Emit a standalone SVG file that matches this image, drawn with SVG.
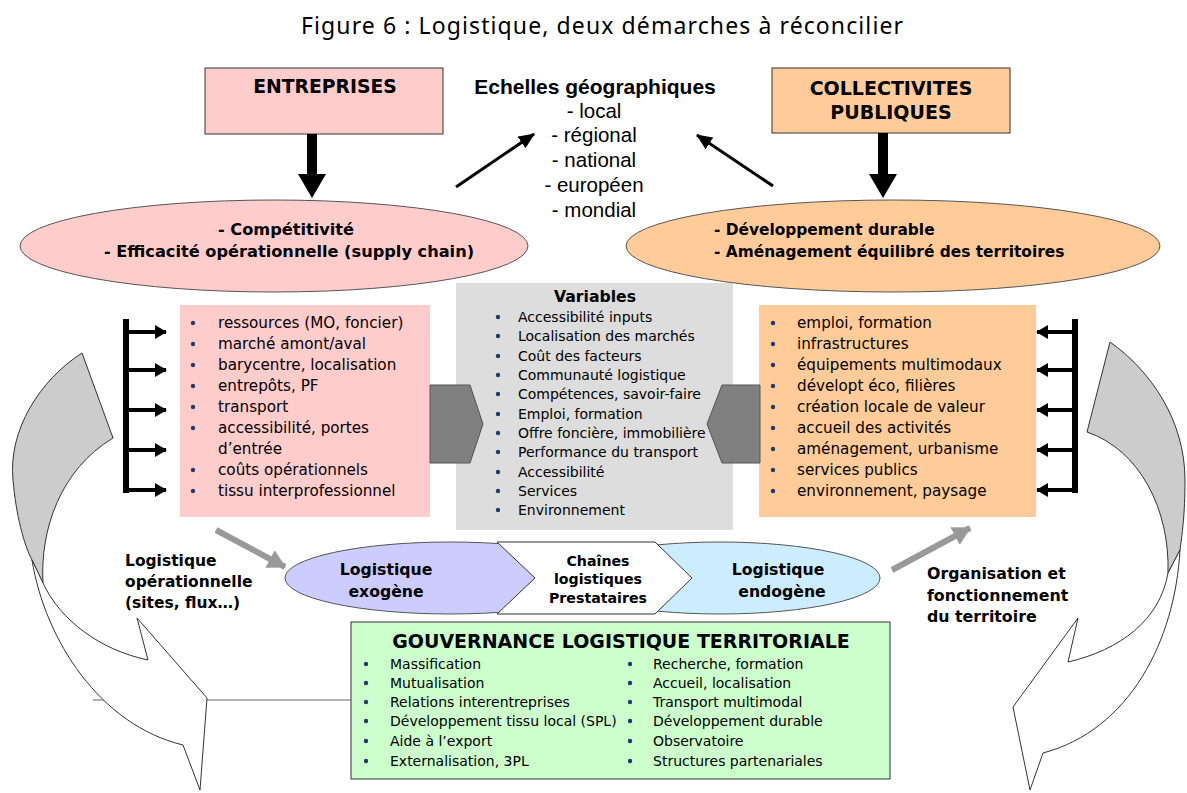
<svg xmlns="http://www.w3.org/2000/svg" width="1187" height="793" viewBox="0 0 1187 793">
<defs>
<style>
.t{font-family:"DejaVu Sans",Verdana,sans-serif;fill:#000}
.b{font-family:"DejaVu Sans",Verdana,sans-serif;font-weight:bold;fill:#000}
.n{font-family:"Liberation Sans Narrow","Liberation Sans",Arial,sans-serif;fill:#000}
.dot{fill:#1F3B6E}
.edge{stroke:#333;stroke-width:1}
.curv{stroke:#333;stroke-width:1}
</style>
<marker id="blk" markerUnits="userSpaceOnUse" viewBox="0 0 16 14" markerWidth="16" markerHeight="14" refX="15" refY="7" orient="auto"><path d="M0,0 L16,7 L0,14 z" fill="#000"/></marker>
<marker id="brk" markerUnits="userSpaceOnUse" viewBox="0 0 12 14" markerWidth="12" markerHeight="14" refX="11" refY="7" orient="auto"><path d="M0,0 L12,7 L0,14 z" fill="#000"/></marker>
<marker id="gry" markerUnits="userSpaceOnUse" viewBox="0 0 18 20" markerWidth="18" markerHeight="20" refX="17" refY="10" orient="auto"><path d="M0,0 L18,10 L0,20 z" fill="#999"/></marker>
</defs>
<rect width="1187" height="793" fill="#fff"/>
<text x="602" y="34" text-anchor="middle" textLength="602" lengthAdjust="spacing" style="font-family:'Noto Sans','Liberation Sans',sans-serif;font-size:23px;fill:#000">Figure 6 : Logistique, deux démarches à réconcilier</text>

<g id="curved-arrows">
<line x1="93" y1="700" x2="351" y2="700" stroke="#666" stroke-width="1"/>
<path class="curv" fill="#ccc" d="M82,353 C40,380 8,430 13,480 C16,515 24,545 32,560 L43,583 C40,530 60,470 113,438 Z"/>
<path class="curv" fill="#fff" d="M32,560 C45,640 100,725 183,745 L200,790 L207,698 L137,618 L148,660 C100,650 60,620 43,583 Z"/>
<path class="curv" fill="#ccc" d="M1110,342 C1150,370 1185,420 1185,480 C1185,515 1182,535 1180,550 L1168,573 C1170,510 1140,450 1087,432 Z"/>
<path class="curv" fill="#fff" d="M1180,550 C1175,640 1130,730 1043,753 L1030,790 L1013,707 L1078,618 L1068,662 C1120,650 1160,620 1168,573 Z"/>
</g>

<g id="entreprises">
<rect x="205" y="68" width="238" height="66" fill="#FFCCCC" class="edge"/>
<text x="325" y="93" text-anchor="middle" class="b" font-size="18.8">ENTREPRISES</text>
</g>
<g id="collectivites">
<rect x="772" y="68" width="238" height="65" fill="#FFCC99" class="edge"/>
<text x="891" y="95" text-anchor="middle" class="b" font-size="19">COLLECTIVITES</text>
<text x="891" y="119" text-anchor="middle" class="b" font-size="19">PUBLIQUES</text>
</g>
<g id="echelles">
<text x="595" y="94" text-anchor="middle" style="font-family:'Liberation Sans',Arial,sans-serif;font-weight:bold;font-size:21px;fill:#000">Echelles géographiques</text>
<text x="594" y="118" text-anchor="middle" class="n" font-size="20.5">- local</text>
<text x="594" y="142" text-anchor="middle" class="n" font-size="20.5">- régional</text>
<text x="594" y="167" text-anchor="middle" class="n" font-size="20.5">- national</text>
<text x="594" y="192" text-anchor="middle" class="n" font-size="20.5">- européen</text>
<text x="594" y="217" text-anchor="middle" class="n" font-size="20.5">- mondial</text>
</g>

<g id="variables">
<rect x="456" y="283" width="277" height="247" fill="#DDDDDD"/>
<text x="595" y="302" text-anchor="middle" class="b" font-size="15.7">Variables</text>
<g class="t" font-size="14">
<text x="518" y="322">Accessibilité inputs</text>
<text x="518" y="341">Localisation des marchés</text>
<text x="518" y="361">Coût des facteurs</text>
<text x="518" y="380">Communauté logistique</text>
<text x="518" y="399">Compétences, savoir-faire</text>
<text x="518" y="419">Emploi, formation</text>
<text x="518" y="438">Offre foncière, immobilière</text>
<text x="518" y="457">Performance du transport</text>
<text x="518" y="477">Accessibilité</text>
<text x="518" y="496">Services</text>
<text x="518" y="515">Environnement</text>
</g>
<g class="dot">
<circle cx="498" cy="317" r="2.2"/><circle cx="498" cy="336" r="2.2"/><circle cx="498" cy="356" r="2.2"/><circle cx="498" cy="375" r="2.2"/><circle cx="498" cy="394" r="2.2"/><circle cx="498" cy="414" r="2.2"/><circle cx="498" cy="433" r="2.2"/><circle cx="498" cy="452" r="2.2"/><circle cx="498" cy="472" r="2.2"/><circle cx="498" cy="491" r="2.2"/><circle cx="498" cy="510" r="2.2"/>
</g>
</g>

<g id="ellipse-left">
<ellipse cx="274" cy="246" rx="254" ry="46" fill="#FFCCCC" stroke="#555" stroke-width="1"/>
<text x="286" y="235" text-anchor="middle" class="b" font-size="16.2">- Compétitivité</text>
<text x="289" y="257" text-anchor="middle" class="b" font-size="16.2">- Efficacité opérationnelle (supply chain)</text>
</g>
<g id="ellipse-right">
<ellipse cx="893" cy="246" rx="267" ry="46" fill="#FFCC99" stroke="#555" stroke-width="1"/>
<text x="714" y="235" class="b" font-size="15.4">- Développement durable</text>
<text x="714" y="257" class="b" font-size="15.4">- Aménagement équilibré des territoires</text>
</g>

<g id="box-left">
<rect x="180" y="305" width="250" height="212" fill="#FFCCCC"/>
<g class="t" font-size="15.2">
<text x="218" y="328">ressources (MO, foncier)</text>
<text x="218" y="349">marché amont/aval</text>
<text x="218" y="370">barycentre, localisation</text>
<text x="218" y="391">entrepôts, PF</text>
<text x="218" y="412">transport</text>
<text x="218" y="433">accessibilité, portes</text>
<text x="218" y="454">d’entrée</text>
<text x="218" y="475">coûts opérationnels</text>
<text x="218" y="496">tissu interprofessionnel</text>
</g>
<g class="dot">
<circle cx="193" cy="323" r="2.2"/><circle cx="193" cy="344" r="2.2"/><circle cx="193" cy="365" r="2.2"/><circle cx="193" cy="386" r="2.2"/><circle cx="193" cy="407" r="2.2"/><circle cx="193" cy="428" r="2.2"/><circle cx="193" cy="470" r="2.2"/><circle cx="193" cy="491" r="2.2"/>
</g>
</g>

<g id="box-right">
<rect x="759" y="305" width="277" height="212" fill="#FFCC99"/>
<g class="t" font-size="15.2">
<text x="797" y="328">emploi, formation</text>
<text x="797" y="349">infrastructures</text>
<text x="797" y="370">équipements multimodaux</text>
<text x="797" y="391">dévelopt éco, filières</text>
<text x="797" y="412">création locale de valeur</text>
<text x="797" y="433">accueil des activités</text>
<text x="797" y="454">aménagement, urbanisme</text>
<text x="797" y="475">services publics</text>
<text x="797" y="496">environnement, paysage</text>
</g>
<g class="dot">
<circle cx="773" cy="323" r="2.2"/><circle cx="773" cy="344" r="2.2"/><circle cx="773" cy="365" r="2.2"/><circle cx="773" cy="386" r="2.2"/><circle cx="773" cy="407" r="2.2"/><circle cx="773" cy="428" r="2.2"/><circle cx="773" cy="449" r="2.2"/><circle cx="773" cy="470" r="2.2"/><circle cx="773" cy="491" r="2.2"/>
</g>
</g>

<g id="pointer-left"><polygon points="430,385 470,385 483,424 470,463 430,463" fill="#808080" stroke="#555" stroke-width="1"/></g>
<g id="pointer-right"><polygon points="760,385 722,385 707,424 722,463 760,463" fill="#808080" stroke="#555" stroke-width="1"/></g>

<g id="middle-band">
<ellipse cx="450" cy="578" rx="165" ry="36" fill="#CCCCFF" stroke="#555" stroke-width="1"/>
<ellipse cx="720" cy="578" rx="160" ry="36" fill="#CCECFF" stroke="#555" stroke-width="1"/>
<polygon points="497,542 655,542 692,578 655,614 497,614 535,578" fill="#fff" stroke="#333" stroke-width="1"/>
<text x="386" y="575" text-anchor="middle" class="b" font-size="15.7">Logistique</text>
<text x="386" y="597" text-anchor="middle" class="b" font-size="15.7">exogène</text>
<text x="598" y="566" text-anchor="middle" class="b" font-size="14.2">Chaînes</text>
<text x="598" y="584" text-anchor="middle" class="b" font-size="14.2">logistiques</text>
<text x="598" y="603" text-anchor="middle" class="b" font-size="14.2">Prestataires</text>
<text x="778" y="575" text-anchor="middle" class="b" font-size="15.7">Logistique</text>
<text x="782" y="597" text-anchor="middle" class="b" font-size="15.7">endogène</text>
</g>

<g id="label-left">
<text x="125" y="566" class="b" font-size="15.5">Logistique</text>
<text x="125" y="587" class="b" font-size="15.5">opérationnelle</text>
<text x="125" y="608" class="b" font-size="15.5">(sites, flux…)</text>
</g>
<g id="label-right">
<text x="927" y="579" class="b" font-size="15.8">Organisation et</text>
<text x="927" y="601" class="b" font-size="15.8">fonctionnement</text>
<text x="927" y="622" class="b" font-size="15.8">du territoire</text>
</g>

<g id="gouvernance">
<rect x="351" y="622" width="539" height="157" fill="#CCFFCC" stroke="#333" stroke-width="1"/>
<text x="621" y="648" text-anchor="middle" class="b" font-size="19">GOUVERNANCE LOGISTIQUE TERRITORIALE</text>
<g class="t" font-size="14">
<text x="390" y="669">Massification</text>
<text x="390" y="688">Mutualisation</text>
<text x="390" y="707">Relations interentreprises</text>
<text x="390" y="726">Développement tissu local (SPL)</text>
<text x="390" y="746">Aide à l’export</text>
<text x="390" y="766">Externalisation, 3PL</text>
<text x="653" y="669">Recherche, formation</text>
<text x="653" y="688">Accueil, localisation</text>
<text x="653" y="707">Transport multimodal</text>
<text x="653" y="726">Développement durable</text>
<text x="653" y="746">Observatoire</text>
<text x="653" y="766">Structures partenariales</text>
</g>
<g class="dot">
<circle cx="366" cy="664" r="2.2"/><circle cx="366" cy="683" r="2.2"/><circle cx="366" cy="702" r="2.2"/><circle cx="366" cy="721" r="2.2"/><circle cx="366" cy="741" r="2.2"/><circle cx="366" cy="761" r="2.2"/>
<circle cx="630" cy="664" r="2.2"/><circle cx="630" cy="683" r="2.2"/><circle cx="630" cy="702" r="2.2"/><circle cx="630" cy="721" r="2.2"/><circle cx="630" cy="741" r="2.2"/><circle cx="630" cy="761" r="2.2"/>
</g>
</g>

<g id="connectors">
<polygon points="307,134 317,134 317,174 326,174 312,198 298,174 307,174" fill="#000"/>
<polygon points="878,133 888,133 888,174 897,174 883,198 869,174 878,174" fill="#000"/>
<line x1="456" y1="187" x2="534" y2="134" stroke="#000" stroke-width="3" marker-end="url(#blk)"/>
<line x1="773" y1="186" x2="697" y2="135" stroke="#000" stroke-width="3" marker-end="url(#blk)"/>
<rect x="123" y="319" width="6" height="174" fill="#000"/>
<g stroke="#000" stroke-width="4" marker-end="url(#brk)">
<line x1="127" y1="332" x2="166" y2="332"/>
<line x1="127" y1="370" x2="166" y2="370"/>
<line x1="127" y1="410" x2="166" y2="410"/>
<line x1="127" y1="450" x2="166" y2="450"/>
<line x1="127" y1="490" x2="166" y2="490"/>
</g>
<rect x="1072" y="319" width="6" height="174" fill="#000"/>
<g stroke="#000" stroke-width="4" marker-end="url(#brk)">
<line x1="1074" y1="332" x2="1037" y2="332"/>
<line x1="1074" y1="370" x2="1037" y2="370"/>
<line x1="1074" y1="410" x2="1037" y2="410"/>
<line x1="1074" y1="450" x2="1037" y2="450"/>
<line x1="1074" y1="490" x2="1037" y2="490"/>
</g>
<line x1="216" y1="530" x2="285" y2="567" stroke="#999" stroke-width="6" marker-end="url(#gry)"/>
<line x1="892" y1="570" x2="970" y2="528" stroke="#999" stroke-width="6" marker-end="url(#gry)"/>
</g>
</svg>
